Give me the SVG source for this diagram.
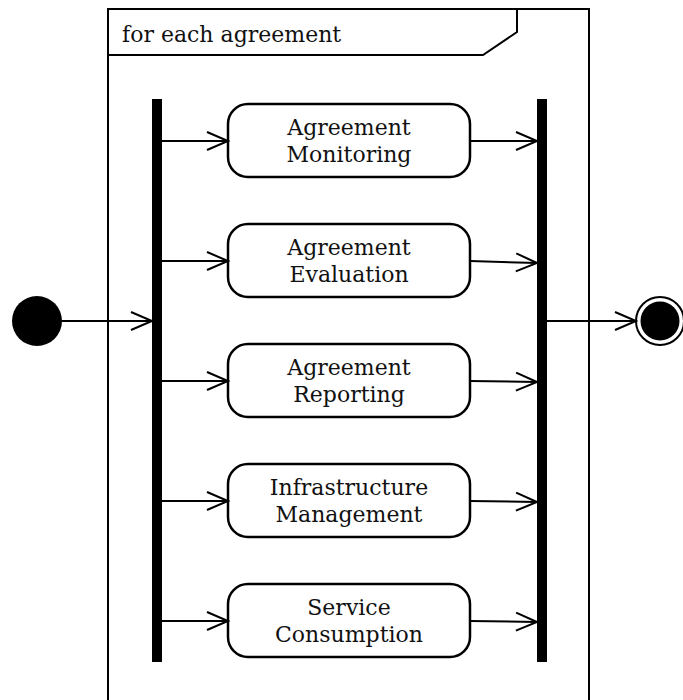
<svg xmlns="http://www.w3.org/2000/svg" width="683" height="700" viewBox="0 0 683 700">
  <style>
    .ln { fill: none; stroke: #000; stroke-width: 2; }
    .act { fill: #fff; stroke: #000; stroke-width: 2.5; }
    .bar { fill: #000; }
    .lbl { font-family: "DejaVu Serif", "Liberation Serif", serif; font-size: 22px; fill: #111; text-anchor: middle; }
    .title { font-family: "DejaVu Serif", "Liberation Serif", serif; font-size: 22px; fill: #111; }
  </style>
  <defs>
    <marker id="open" markerWidth="26" markerHeight="22" refX="23" refY="11" orient="auto" markerUnits="userSpaceOnUse">
      <path d="M2,2 L23,11 L2,20" fill="none" stroke="#000" stroke-width="2"/>
    </marker>
  </defs>

  <!-- expansion region frame with its label tab -->
  <g id="frame">
    <rect x="108" y="9" width="481" height="710" class="ln"/>
    <path d="M108,55 L483,55 L517,32 L517,9" class="ln"/>
    <text x="122" y="42" class="title">for each agreement</text>
  </g>

  <!-- start and end -->
  <g id="initial">
    <circle cx="37" cy="321" r="25" fill="#000"/>
  </g>
  <g id="final">
    <circle cx="660" cy="321" r="24" fill="#fff" stroke="#000" stroke-width="2"/>
    <circle cx="660" cy="321" r="19.5" fill="#000"/>
  </g>

  <!-- fork and join bars -->
  <g id="fork"><rect x="152" y="99" width="10" height="563" class="bar"/></g>
  <g id="join"><rect x="537" y="99" width="10" height="563" class="bar"/></g>

  <!-- actions -->
  <g id="monitoring">
    <rect x="228" y="104" width="242" height="73" rx="20" class="act"/>
    <text x="349" y="135" class="lbl">Agreement</text>
    <text x="349" y="162" class="lbl">Monitoring</text>
  </g>
  <g id="evaluation">
    <rect x="228" y="224" width="242" height="73" rx="20" class="act"/>
    <text x="349" y="255" class="lbl">Agreement</text>
    <text x="349" y="282" class="lbl">Evaluation</text>
  </g>
  <g id="reporting">
    <rect x="228" y="344" width="242" height="73" rx="20" class="act"/>
    <text x="349" y="375" class="lbl">Agreement</text>
    <text x="349" y="402" class="lbl">Reporting</text>
  </g>
  <g id="infrastructure">
    <rect x="228" y="464" width="242" height="73" rx="20" class="act"/>
    <text x="349" y="495" class="lbl">Infrastructure</text>
    <text x="349" y="522" class="lbl">Management</text>
  </g>
  <g id="consumption">
    <rect x="228" y="584" width="242" height="73" rx="20" class="act"/>
    <text x="349" y="615" class="lbl">Service</text>
    <text x="349" y="642" class="lbl">Consumption</text>
  </g>

  <!-- control flows -->
  <g id="connectors" class="ln" marker-end="url(#open)">
    <line x1="62" y1="321" x2="152" y2="321"/>
    <line x1="547" y1="321" x2="636" y2="321"/>
    <line x1="162" y1="141" x2="228" y2="141"/>
    <line x1="162" y1="261" x2="228" y2="261"/>
    <line x1="162" y1="381" x2="228" y2="381"/>
    <line x1="162" y1="501" x2="228" y2="501"/>
    <line x1="162" y1="621" x2="228" y2="621"/>
    <line x1="470" y1="141" x2="537" y2="141"/>
    <line x1="470" y1="261" x2="537" y2="263"/>
    <line x1="470" y1="381" x2="537" y2="382"/>
    <line x1="470" y1="501" x2="537" y2="502"/>
    <line x1="470" y1="621" x2="537" y2="622"/>
  </g>
</svg>
